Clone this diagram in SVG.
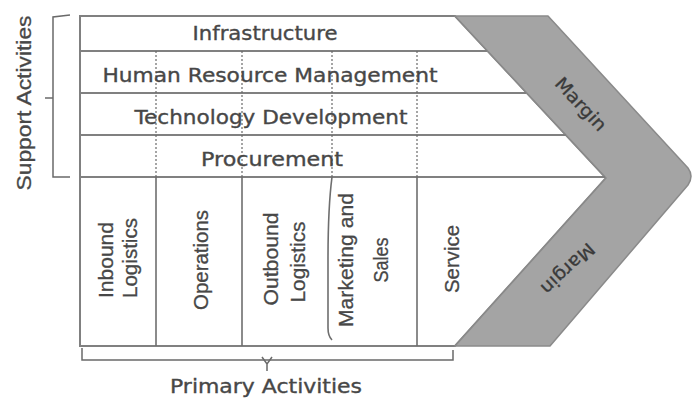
<svg xmlns="http://www.w3.org/2000/svg" width="695" height="399" viewBox="0 0 695 399">
  <style>
    .frame { fill: #ffffff; stroke: #808080; stroke-width: 2; }
    .rule { fill: none; stroke: #808080; stroke-width: 2; }
    .col { fill: none; stroke: #6e6e6e; stroke-width: 1.6; }
    .dash { fill: none; stroke: #6a6a6a; stroke-width: 1.2; stroke-dasharray: 2 2; }
    .band { fill: #a4a4a4; stroke: #8a8a8a; stroke-width: 1.5; stroke-linejoin: round; }
    .brace { fill: none; stroke: #6a6a6a; stroke-width: 1.5; }
    .h { font-family: "DejaVu Sans", Verdana, sans-serif; font-size: 19px; fill: #474747; stroke: #474747; stroke-width: 0.35; text-anchor: middle; }
    .v { font-family: "Liberation Sans", Arial, sans-serif; font-size: 21px; fill: #474747; stroke: #474747; stroke-width: 0.3; text-anchor: middle; }
    .m { font-family: "DejaVu Sans", Verdana, sans-serif; font-size: 18px; fill: #3a3a3a; stroke: #3a3a3a; stroke-width: 0.3; text-anchor: middle; dominant-baseline: central; }
  </style>

  <!-- white value-chain body -->
  <g id="body">
    <polygon class="frame" points="80,16 455,16 606,178 455,346 80,346"/>
  </g>

  <!-- margin chevron -->
  <g id="margin">
    <path class="band" d="M455,16 L548,16 L688,168 Q694,176 688,185 L550,346 L455,346 L606,178 Z"/>
    <text class="m" transform="translate(581,104) rotate(47)" textLength="66" lengthAdjust="spacingAndGlyphs">Margin</text>
    <text class="m" transform="translate(568,269) rotate(137)" textLength="66" lengthAdjust="spacingAndGlyphs">Margin</text>
  </g>

  <!-- support activity rows -->
  <g id="support-rows">
    <line class="rule" x1="80" y1="51" x2="487" y2="51"/>
    <line class="rule" x1="80" y1="93" x2="526" y2="93"/>
    <line class="rule" x1="80" y1="135" x2="566" y2="135"/>
    <line class="rule" x1="80" y1="177" x2="605" y2="177"/>
    <line class="dash" x1="156" y1="51" x2="156" y2="177"/>
    <line class="dash" x1="242" y1="51" x2="242" y2="177"/>
    <line class="dash" x1="332" y1="51" x2="332" y2="177"/>
    <line class="dash" x1="417" y1="51" x2="417" y2="177"/>
  </g>

  <g id="infrastructure">
    <text class="h" x="265" y="40" textLength="145" lengthAdjust="spacingAndGlyphs">Infrastructure</text>
  </g>
  <g id="human-resource-management">
    <text class="h" x="270" y="82" textLength="335" lengthAdjust="spacingAndGlyphs">Human Resource Management</text>
  </g>
  <g id="technology-development">
    <text class="h" x="271" y="124" textLength="273" lengthAdjust="spacingAndGlyphs">Technology Development</text>
  </g>
  <g id="procurement">
    <text class="h" x="272" y="166" textLength="142" lengthAdjust="spacingAndGlyphs">Procurement</text>
  </g>

  <!-- primary activity columns -->
  <g id="primary-columns">
    <line class="col" x1="156" y1="177" x2="156" y2="346"/>
    <line class="col" x1="242" y1="177" x2="242" y2="346"/>
    <path class="col" d="M332,177 C329,200 328,230 328,260 L328,328 Q328,336 332,340"/>
    <line class="col" x1="417" y1="177" x2="417" y2="346"/>
  </g>

  <g id="inbound-logistics">
    <text class="v" transform="translate(113,260) rotate(-90)" textLength="76" lengthAdjust="spacingAndGlyphs">Inbound</text>
    <text class="v" transform="translate(137,258) rotate(-90)" textLength="80" lengthAdjust="spacingAndGlyphs">Logistics</text>
  </g>
  <g id="operations">
    <text class="v" transform="translate(208,260) rotate(-90)" textLength="100" lengthAdjust="spacingAndGlyphs">Operations</text>
  </g>
  <g id="outbound-logistics">
    <text class="v" transform="translate(278,259) rotate(-90)" textLength="93" lengthAdjust="spacingAndGlyphs">Outbound</text>
    <text class="v" transform="translate(305,262) rotate(-90)" textLength="81" lengthAdjust="spacingAndGlyphs">Logistics</text>
  </g>
  <g id="marketing-and-sales">
    <text class="v" transform="translate(353,260) rotate(-90)" textLength="134" lengthAdjust="spacingAndGlyphs">Marketing and</text>
    <text class="v" transform="translate(388,260) rotate(-90)" textLength="45" lengthAdjust="spacingAndGlyphs">Sales</text>
  </g>
  <g id="service">
    <text class="v" transform="translate(459,259) rotate(-90)" textLength="68" lengthAdjust="spacingAndGlyphs">Service</text>
  </g>

  <!-- group braces -->
  <g id="connectors">
    <path class="brace" d="M70,15 L53,17 L53,177 L70,177"/>
    <path class="brace" d="M53,98 L45,98"/>
    <path class="brace" d="M82,348 L82,360 L453,360 L453,350"/>
    <path class="brace" d="M262,357 L267,364 L272,357 M267,364 L267,371"/>
  </g>

  <g id="support-activities">
    <text class="v" transform="translate(31,103) rotate(-90)" textLength="175" lengthAdjust="spacingAndGlyphs">Support Activities</text>
  </g>
  <g id="primary-activities">
    <text class="h" x="266" y="393" textLength="192" lengthAdjust="spacingAndGlyphs">Primary Activities</text>
  </g>
</svg>
